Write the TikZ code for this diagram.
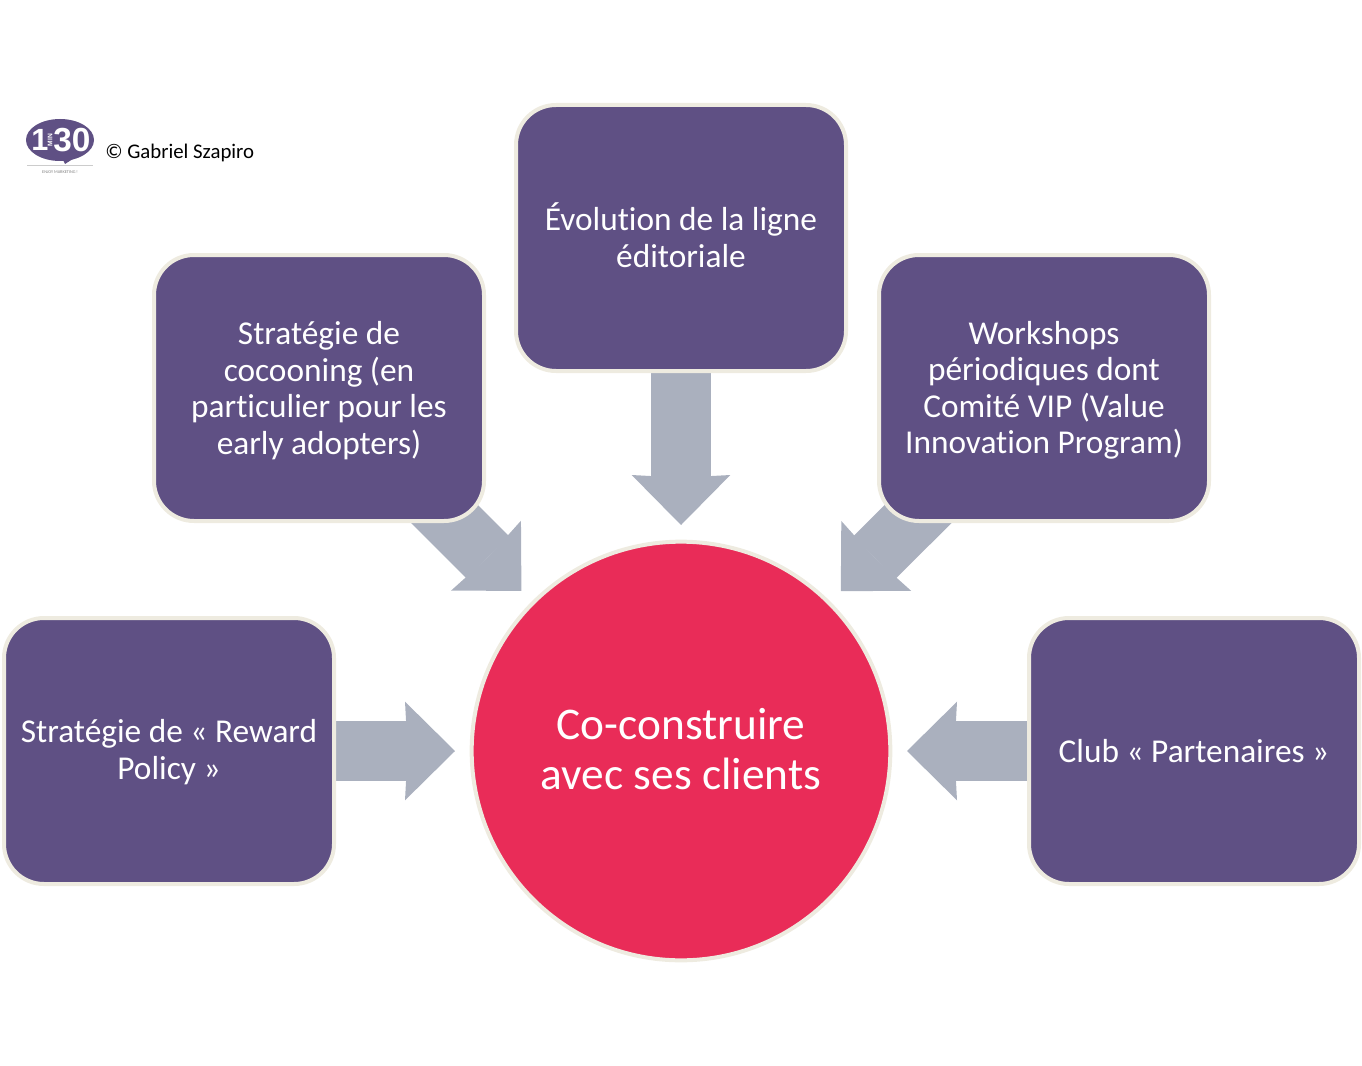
\documentclass[tikz,border=0pt]{standalone}
\usepackage{fontspec}
\setmainfont[RawFeature={-liga}]{Carlito}
\newfontfamily\logofont{Liberation Sans}
\usetikzlibrary{arrows.meta,backgrounds}
\definecolor{boxpurple}{HTML}{5F5084}
\definecolor{hubred}{HTML}{E92C58}
\definecolor{edgecream}{HTML}{EEEBE0}
\definecolor{arrowgray}{HTML}{AAB0BE}
\tikzset{
    topicbox/.style={rectangle, rounded corners=30pt, draw=edgecream, line width=3pt, fill=boxpurple,
        text=white, align=center, minimum width=247.5pt, minimum height=199.5pt, inner sep=0pt,
        font=\fontsize{25}{27.4}\selectfont},
    hubcircle/.style={circle, draw=edgecream, line width=3pt, fill=hubred, text=white, align=center,
        minimum size=314pt, inner sep=0pt, font=\fontsize{34}{37.5}\selectfont},
    blockarrow/.style={draw=arrowgray, line width=45pt, shorten <=-30pt, shorten >=11pt,
        -{Stealth[length=37.5pt,width=74pt,inset=2pt,line width=0pt,fill=arrowgray]}},
    logotext/.style={text=white, inner sep=0pt},
}

\begin{document}
\begin{tikzpicture}[x=0.75pt,y=-0.75pt]
    \useasboundingbox (0,0) rectangle (1362,1066);

    % Central circle
    \node[hubcircle] (hub) at (681,751) {Co-construire\\avec ses clients\rule[-3pt]{0pt}{0pt}};

    % Surrounding boxes (the rules only trim the text height)
    \node[topicbox] (reward) at (169,751) {\rule{0pt}{19pt}Stratégie de « Reward\\Policy »};
    \node[topicbox] (cocoon) at (319,388) {\rule{0pt}{21pt}Stratégie de\\cocooning (en\\particulier pour les\\early adopters)};
    \node[topicbox] (ligne) at (681,238) {Évolution de la ligne\\éditoriale\rule[-4.5pt]{0pt}{0pt}};
    \node[topicbox] (workshop) at (1044,388) {\rule{0pt}{21pt}Workshops\\périodiques dont\\Comité VIP (Value\\Innovation Program)};
    \node[topicbox] (club) at (1194,751) {Club « Partenaires »};

    % Arrows run behind the boxes
    \begin{scope}[on background layer]
        \draw[blockarrow] (reward) -- (hub);
        \draw[blockarrow] (cocoon) -- (hub);
        \draw[blockarrow] (ligne) -- (hub);
        \draw[blockarrow] (workshop) -- (hub);
        \draw[blockarrow] (club) -- (hub);
    \end{scope}

    % Logo and credit
    \fill[boxpurple] (60,140) ellipse (34 and 21);
    \fill[boxpurple] (62,158) -- (65,164) -- (76,157) -- cycle;
    \node[logotext, font=\fontsize{23}{23}\logofont\bfseries] (logoone) at (40,140) {1};
    \node[logotext, font=\fontsize{5}{5}\logofont\bfseries, rotate=90] (logomin) at (50,140) {MIN};
    \node[logotext, font=\fontsize{25}{25}\logofont\bfseries] (logothirty) at (72,140) {30};
    \draw[gray!40, line width=0.5pt] (27,165) -- (93,165);
    \node[text=gray, font=\fontsize{3.2}{4}\selectfont, inner sep=0pt] (logotag) at (60,172) {ENJOY MARKETING !};
    \node[anchor=west, inner sep=0pt, font=\fontsize{15.6}{18}\selectfont] (credit) at (105,153) {© Gabriel Szapiro};
\end{tikzpicture}
\end{document}
